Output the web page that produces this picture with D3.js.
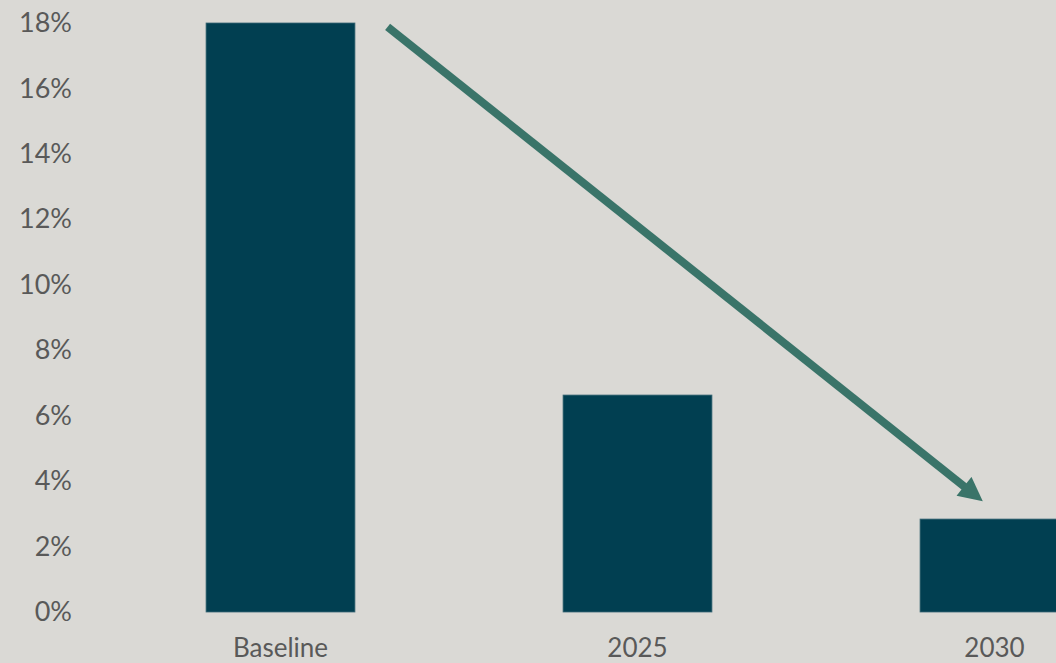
<!DOCTYPE html>
<html>
<head>
<meta charset="utf-8">
<script src="https://d3js.org/d3.v7.min.js"></script>
<style>
  html, body { margin: 0; padding: 0; background-color: #DAD9D5; overflow: hidden; }
  text { font-family: Lato, "Open Sans", sans-serif; fill: #595959; }
</style>
</head>
<body>
<div id="my_dataviz"></div>
<script>

// data
var categories = ["Baseline", "2025", "2030"];
var values = [0.18, 0.0663, 0.0284];
var yTicks = [0, 0.02, 0.04, 0.06, 0.08, 0.10, 0.12, 0.14, 0.16, 0.18];
// arrow end points, in category index units and value units
var arrowIndex = [0.30, 1.97];
var arrowValue = [0.1788, 0.0336];

var width = 1056, height = 663;

var svg = d3.select("#my_dataviz")
  .append("svg")
    .attr("width", width)
    .attr("height", height);

// x: band scale for bars
var x = d3.scaleBand()
  .domain(categories)
  .range([102, 1173])
  .paddingInner(0.583)
  .paddingOuter(0.2915);

// linear version of the same positions for the arrow
var xi = d3.scaleLinear()
  .domain([0, 1])
  .range([x(categories[0]) + x.bandwidth() / 2, x(categories[1]) + x.bandwidth() / 2]);

var y = d3.scaleLinear()
  .domain([0, 0.18])
  .range([612, 23]);

// Y axis (labels only)
var yAxis = svg.append("g")
  .attr("transform", "translate(72,0)")
  .call(d3.axisLeft(y).tickValues(yTicks).tickFormat(d3.format(".0%")).tickSize(0).tickPadding(0));
yAxis.select(".domain").remove();
yAxis.selectAll("text")
  .style("font-size", "27px")
  .attr("fill", "#595959");

// X axis (labels only)
var xAxis = svg.append("g")
  .attr("transform", "translate(0,638)")
  .call(d3.axisBottom(x).tickSize(0).tickPadding(0));
xAxis.select(".domain").remove();
xAxis.selectAll("text")
  .style("font-size", "26px")
  .attr("fill", "#595959")
  .attr("dy", "0.72em");

// bars
svg.append("g")
  .selectAll("rect")
  .data(values)
  .enter()
  .append("rect")
    .attr("x", function (d, i) { return x(categories[i]); })
    .attr("y", function (d) { return y(d); })
    .attr("width", x.bandwidth())
    .attr("height", function (d) { return y(0) - y(d); })
    .style("fill", "#013F51")
    .style("stroke", "#3B6875")
    .style("stroke-width", 0.8);

// arrow
svg.append("defs").append("marker")
    .attr("id", "arrowhead")
    .attr("viewBox", "0 0 10 10")
    .attr("refX", 2)
    .attr("refY", 5)
    .attr("markerWidth", 3.2)
    .attr("markerHeight", 3.0)
    .attr("markerUnits", "strokeWidth")
    .attr("orient", "auto")
  .append("path")
    .attr("d", "M0,0 L10,5 L0,10 Z")
    .style("fill", "#3A7469");

var x1 = xi(arrowIndex[0]), y1 = y(arrowValue[0]);
var x2 = xi(arrowIndex[1]), y2 = y(arrowValue[1]);
// shorten the line so the head tip lands on the end point
var len = Math.sqrt((x2 - x1) * (x2 - x1) + (y2 - y1) * (y2 - y1));
var headLen = 8 * 3.2 * 0.8;
svg.append("line")
    .attr("x1", x1)
    .attr("y1", y1)
    .attr("x2", x2 - (x2 - x1) / len * headLen)
    .attr("y2", y2 - (y2 - y1) / len * headLen)
    .style("stroke", "#3A7469")
    .style("stroke-width", 8)
    .attr("marker-end", "url(#arrowhead)");

</script>
</body>
</html>
